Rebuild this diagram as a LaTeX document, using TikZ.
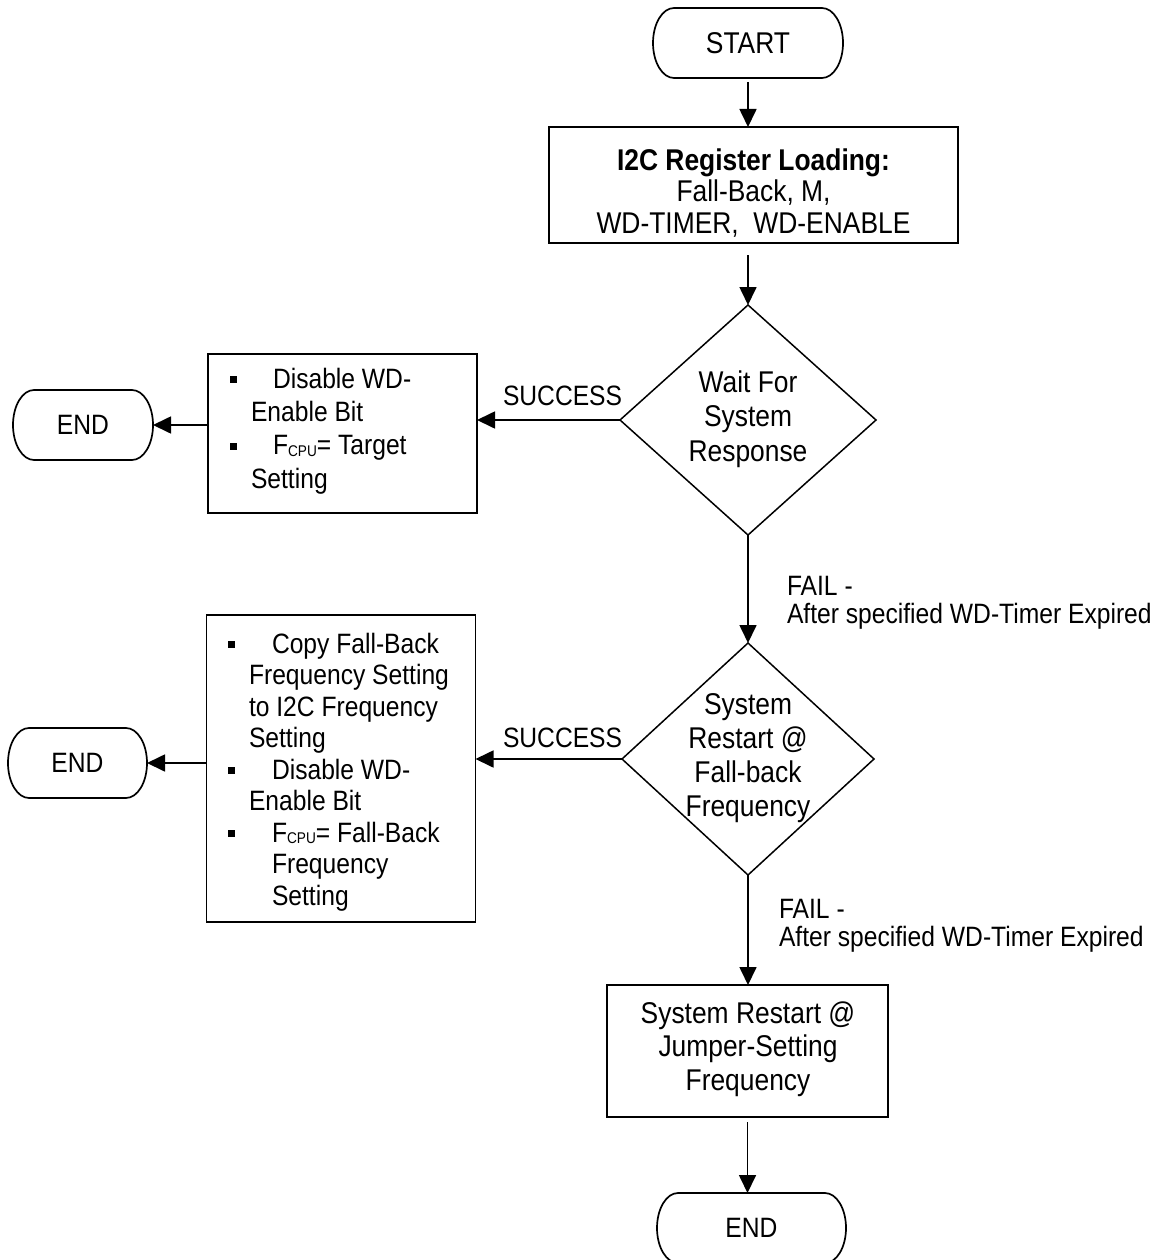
\documentclass[tikz,border=0pt]{standalone}
\usepackage{fontspec}
\setmainfont{Liberation Sans}[FakeStretch=0.88]
\usetikzlibrary{shapes.geometric,arrows.meta}
\newcommand\fsz[2]{\fontsize{#1}{#2}\selectfont}
\newcommand\bul{\rule[5pt]{7pt}{7pt}}
\newcommand\fcpu{F\raisebox{-1.5pt}{\fsz{15.5}{15.5}CPU}}
% outline of a terminal: straight top and bottom, half-elliptic ends
\newcommand\termpath[1]{\draw[line width=1.7pt] ([xshift=21pt]#1.north west) -- ([xshift=-21pt]#1.north east) arc[start angle=90,end angle=-90,x radius=21pt,y radius=35pt] -- ([xshift=21pt]#1.south west) arc[start angle=270,end angle=90,x radius=21pt,y radius=35pt] -- cycle;}
\begin{document}
\begin{tikzpicture}[x=1pt,y=-1pt,
  every node/.style={inner sep=0pt, outer sep=0pt},
  term/.style={rectangle, minimum height=70pt, font=\fsz{28}{33}},
  proc/.style={draw, line width=1.7pt, rectangle},
  dec/.style={draw, line width=1.5pt, diamond},
  txt/.style={align=center},
  bullets/.style={anchor=north west, align=left},
  lbl/.style={anchor=base west, font=\fsz{28}{30}},
  flbl/.style={anchor=north west, align=left, font=\fsz{28}{28.5}},
  arr/.style={line width=1.7pt, -{Triangle[length=18pt,width=17pt]}}]
\useasboundingbox (0,0) rectangle (1167,1260);

% main column
\node[term, minimum width=190pt, font=\fsz{30}{34}] (start) at (748,43) {START};
\termpath{start}
\node[proc, minimum width=409pt, minimum height=116pt] (load) at (753.5,185) {};
\node[txt, font=\fsz{30}{31.5}] (loadt) at (753.5,193) {\textbf{I2C Register Loading:}\\Fall-Back, M,\\WD-TIMER,\ \ WD-ENABLE};

\node[dec, minimum width=256pt, minimum height=230pt] (wait) at (748,420) {};
\node[txt, font=\fsz{30}{34.5}] (waitt) at (748,419) {Wait For\\System\\Response};

\node[dec, minimum width=252pt, minimum height=232pt] (rest) at (748,759) {};
\node[txt, font=\fsz{30}{34}] (restt) at (748,758) {System\\Restart @\\Fall-back\\Frequency};

\node[proc, minimum width=281pt, minimum height=132pt] (jump) at (747.5,1051) {};
\node[txt, font=\fsz{30}{33.5}] (jumpt) at (748,1049) {System Restart @\\Jumper-Setting\\Frequency};

\node[term, minimum width=189pt] (end3) at (751.5,1228) {END};
\termpath{end3}

% left side, first level
\node[proc, minimum width=269pt, minimum height=159pt] (ok1) at (342.5,433.5) {};
\node[bullets, font=\fsz{28}{33.3}] (ok1t) at (230,368) {\bul\hspace*{36pt}Disable WD-\\\hspace*{21pt}Enable Bit\\\bul\hspace*{36pt}\fcpu= Target\\\hspace*{21pt}Setting};
\node[term, minimum width=140pt] (end1) at (83,425) {END};
\termpath{end1}

% left side, second level
\node[proc, minimum width=269pt, minimum height=307pt] (ok2) at (341,768.5) {};
\node[bullets, font=\fsz{28}{31.5}] (ok2t) at (228,633) {\bul\hspace*{37pt}Copy Fall-Back\\\hspace*{21pt}Frequency Setting\\\hspace*{21pt}to I2C Frequency\\\hspace*{21pt}Setting\\\bul\hspace*{37pt}Disable WD-\\\hspace*{21pt}Enable Bit\\\bul\hspace*{37pt}\fcpu= Fall-Back\\\hspace*{44pt}Frequency\\\hspace*{44pt}Setting};
\node[term, minimum width=139pt] (end2) at (77.5,763) {END};
\termpath{end2}

% labels
\node[lbl] (s1) at (503,405) {SUCCESS};
\node[lbl] (s2) at (503,747) {SUCCESS};
\node[flbl] (f1) at (787,576) {FAIL -\\After specified WD-Timer Expired};
\node[flbl] (f2) at (779,899) {FAIL -\\After specified WD-Timer Expired};

% connectors
\draw[arr, shorten <=4pt] (start.south) -- (start.south |- load.north);
\draw[arr, shorten <=12pt] (load.south -| wait.north) -- (wait.north);
\draw[arr] (wait.west) -- (wait.west -| ok1.east);
\draw[arr] (ok1.west |- end1.east) -- (end1.east);
\draw[arr] (wait.south) -- (rest.north);
\draw[arr] (rest.west) -- (rest.west -| ok2.east);
\draw[arr] (ok2.west |- end2.east) -- (end2.east);
\draw[arr] (rest.south) -- (rest.south |- jump.north);
\draw[arr, shorten <=5pt] (jump.south) -- (jump.south |- end3.north);
\end{tikzpicture}
\end{document}
